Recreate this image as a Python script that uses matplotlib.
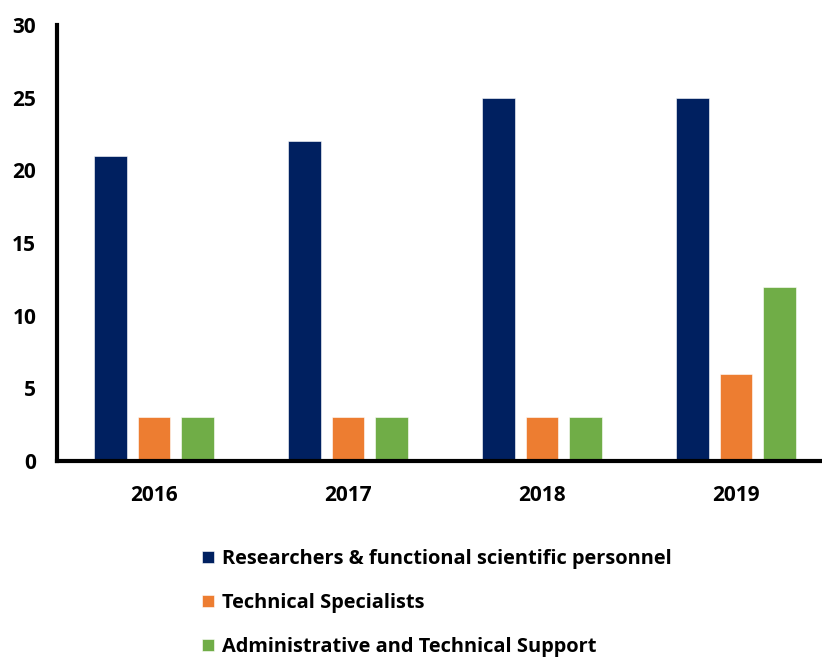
import matplotlib
matplotlib.use('Agg')
import matplotlib.pyplot as plt
import numpy as np

years = ['2016', '2017', '2018', '2019']
researchers = [21, 22, 25, 25]
specialists = [3, 3, 3, 6]
support = [3, 3, 3, 12]

series = [
    ('Researchers & functional scientific personnel', researchers, '#002060'),
    ('Technical Specialists', specialists, '#ED7D31'),
    ('Administrative and Technical Support', support, '#70AD47'),
]

plt.rcParams['font.family'] = ['Open Sans', 'DejaVu Sans']
plt.rcParams['font.weight'] = 'bold'

fig = plt.figure(figsize=(8.22, 6.62), dpi=100)
# axes runs past the right edge, like the original
ax = fig.add_axes([57 / 822, 1 - 461 / 662, 776 / 822, 436 / 662])

x = np.arange(len(years))
width = 0.17
step = 0.222
for i, (label, vals, color) in enumerate(series):
    ax.bar(x + (i - 1) * step, vals, width, color=color, label=label,
           edgecolor='white', linewidth=0.4)

ax.set_xlim(-0.5, len(years) - 0.5)
ax.set_ylim(0, 30)
ax.set_yticks(range(0, 31, 5))
ax.set_xticks(x)
ax.set_xticklabels(years)
ax.tick_params(axis='both', length=0, labelsize=15)
ax.tick_params(axis='y', pad=15)
ax.tick_params(axis='x', pad=17)
for lab in ax.get_xticklabels() + ax.get_yticklabels():
    lab.set_fontweight('bold')

for side in ['top', 'right']:
    ax.spines[side].set_visible(False)
for side in ['left', 'bottom']:
    ax.spines[side].set_linewidth(3)
    ax.spines[side].set_color('black')

handles, labels = ax.get_legend_handles_labels()
fig.legend(handles, labels, loc='upper left',
           bbox_to_anchor=(192 / 822, 1 - 539 / 662), frameon=False,
           borderpad=0, handlelength=0.6, handleheight=0.6,
           handletextpad=0.4, labelspacing=1.2,
           prop={'size': 14.4, 'weight': 'bold'})

fig.savefig('out.png', dpi=100)
